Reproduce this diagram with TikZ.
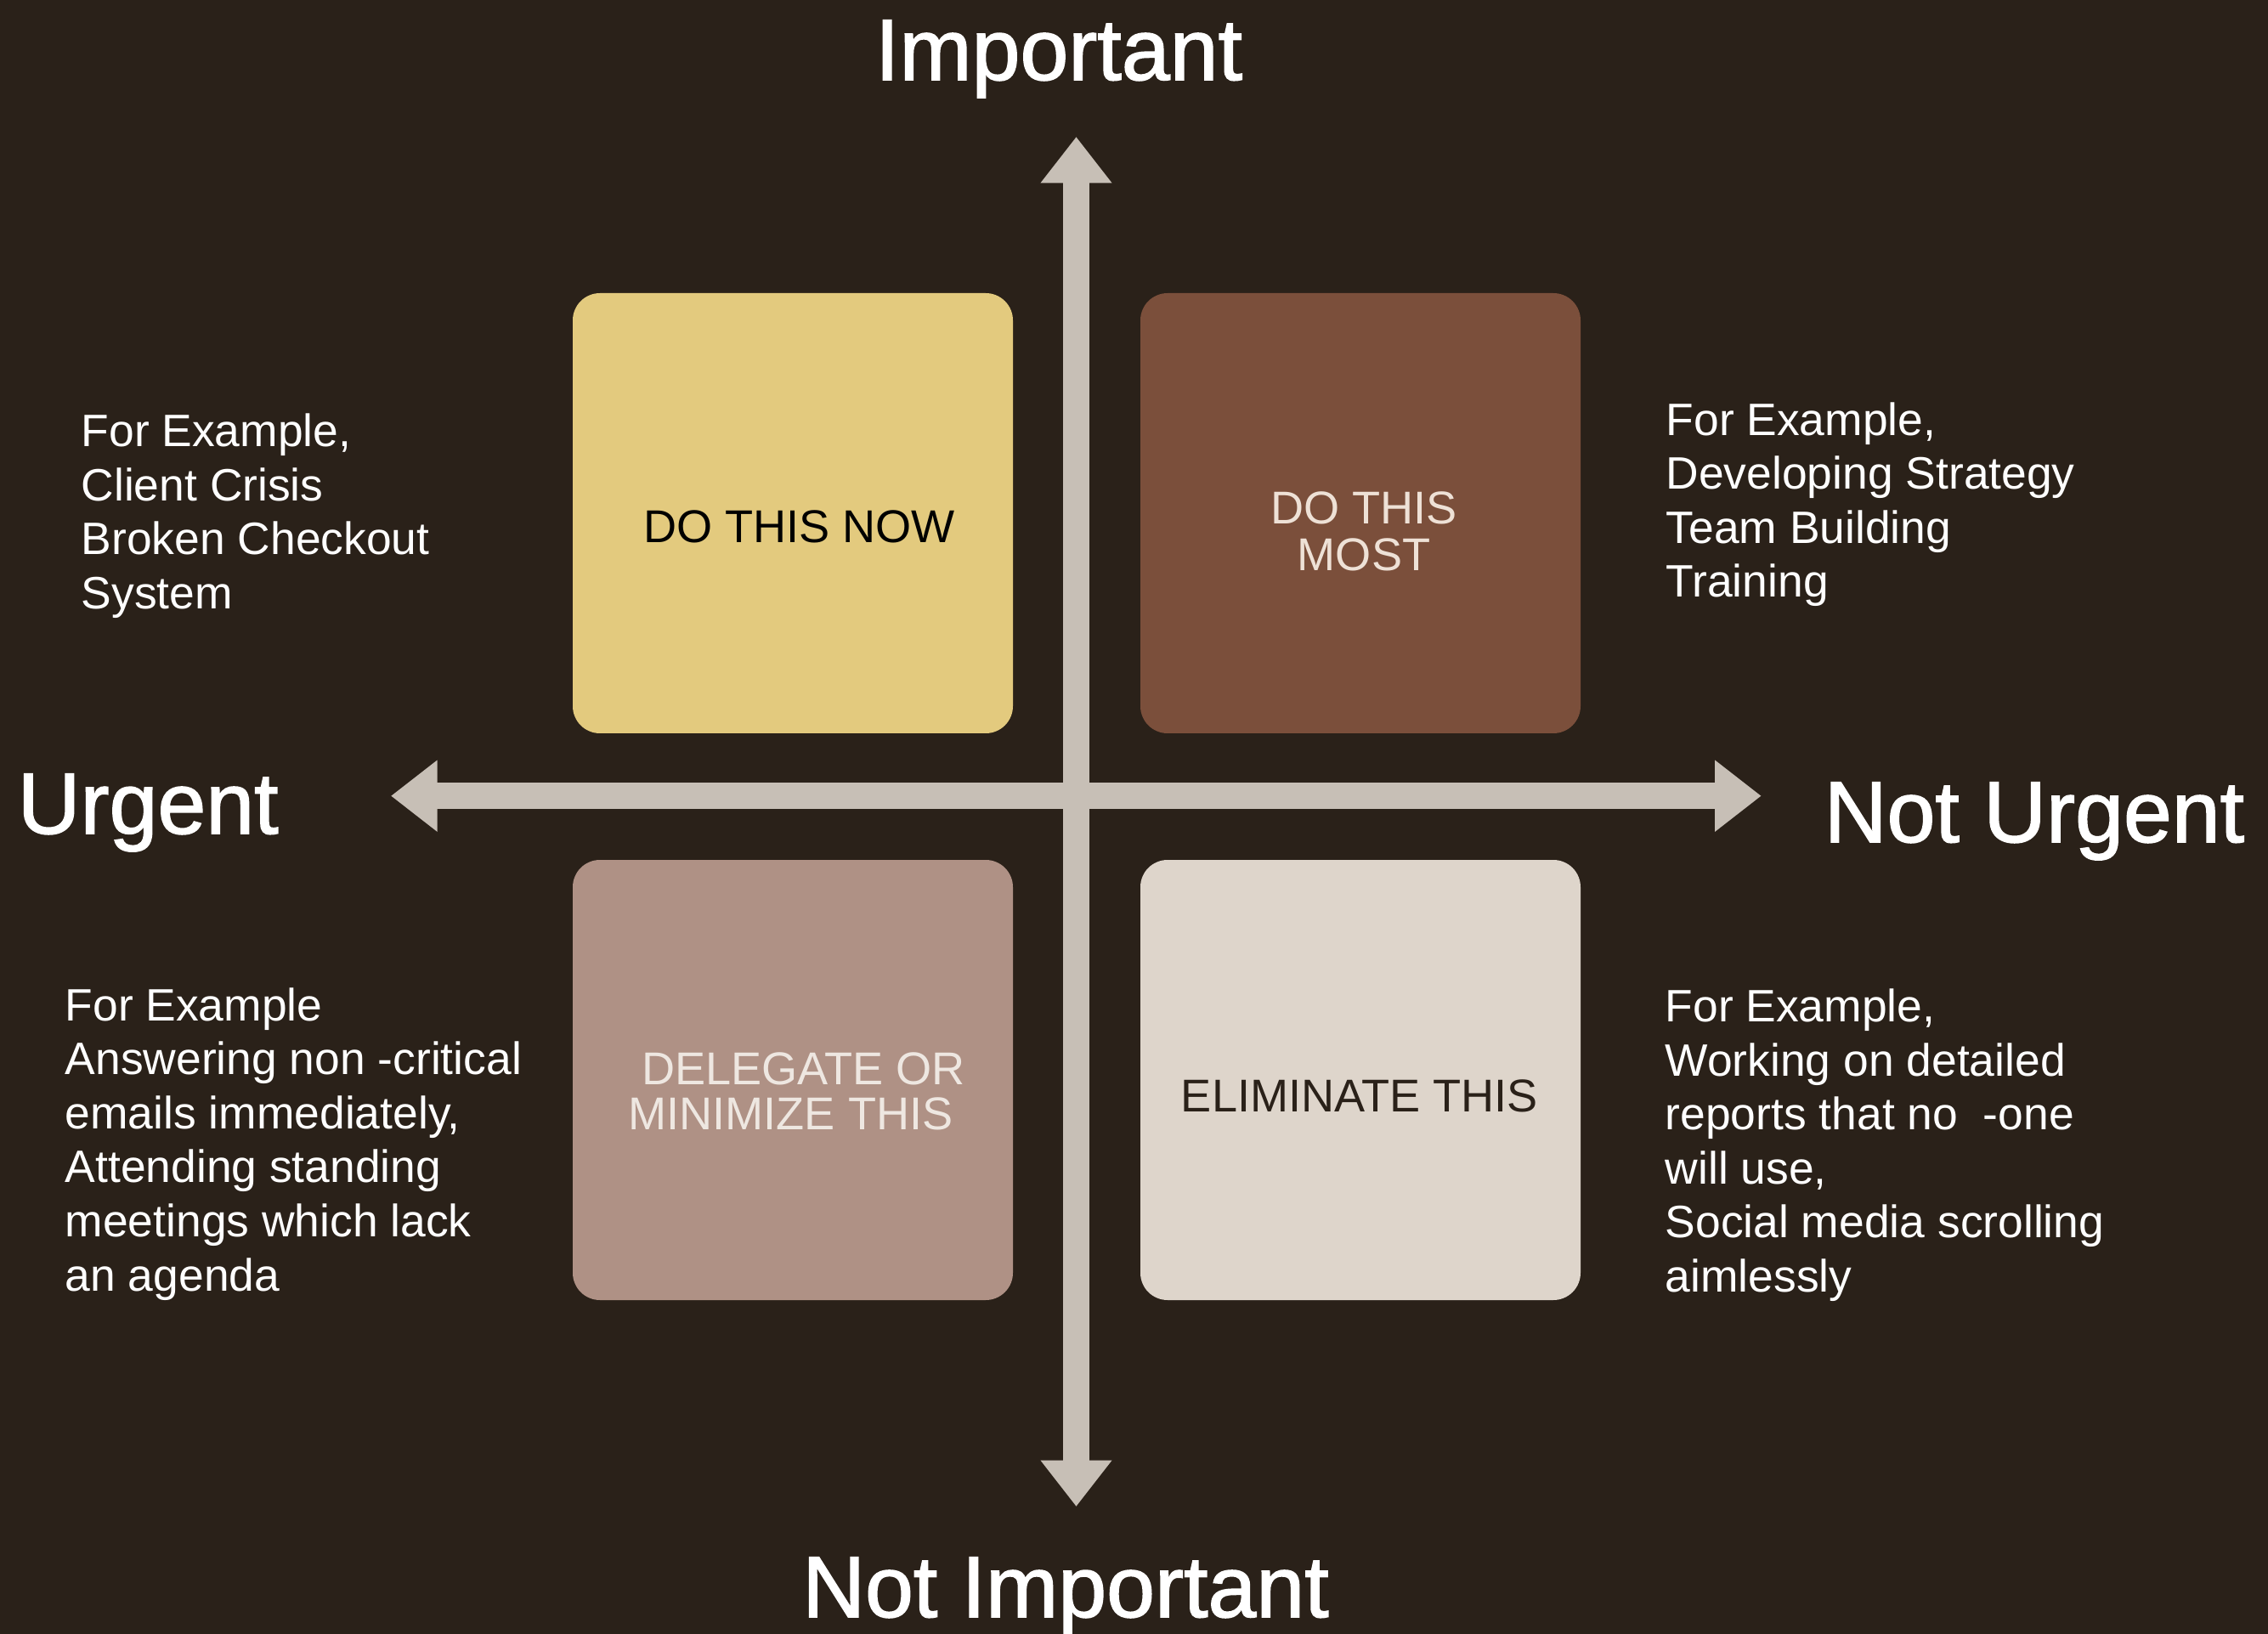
\documentclass[tikz,border=0pt]{standalone}
\usepackage{fontspec}
\setmainfont{Liberation Sans}
\newfontfamily\axisfont[FakeBold=1.5]{Liberation Sans}
\usetikzlibrary{arrows.meta, positioning}

\definecolor{bgdark}{HTML}{2A2119}
\definecolor{axisgrey}{HTML}{C7BFB6}
\definecolor{nowyellow}{HTML}{E3CA7E}
\definecolor{mostbrown}{HTML}{7B4F3B}
\definecolor{delegatemauve}{HTML}{AF9185}
\definecolor{eliminatecream}{HTML}{DED5CB}
\definecolor{mosttext}{HTML}{EEE1D6}
\definecolor{delegatetext}{HTML}{EEE7E1}

\tikzset{
  quad/.style={rounded corners=0.32cm, minimum width=5.18cm, minimum height=5.18cm, inner sep=0pt},
  quadtext/.style={align=center, inner sep=0pt, font=\fontsize{15.4}{15.6}\selectfont},
  axislabel/.style={text=white, inner sep=0pt, font=\axisfont\fontsize{29.1}{32}\selectfont},
  example/.style={text=white, align=left, anchor=base west, inner sep=0pt, font=\fontsize{15.2}{18.07}\selectfont},
  axisarrow/.style={draw=axisgrey, line width=0.315cm, {Triangle[width=0.805cm,length=0.545cm]}-{Triangle[width=0.805cm,length=0.545cm]}}
}

\begin{document}
\begin{tikzpicture}
    % Background
    \fill[bgdark] (0,0) rectangle (26.69,-19.23);
    \useasboundingbox (0,0) rectangle (26.69,-19.23);
    % Quadrants
    \node[quad, fill=nowyellow] (nowbox) at (9.33,-6.04) {};
    \node[quad, fill=mostbrown] (mostbox) at (16.01,-6.04) {};
    \node[quad, fill=delegatemauve] (delegatebox) at (9.33,-12.71) {};
    \node[quad, fill=eliminatecream] (eliminatebox) at (16.01,-12.71) {};
    \node[quadtext, text=black] (nowtext) at (9.405,-6.20) {DO THIS NOW};
    \node[quadtext, text=mosttext] (mosttext) at (16.05,-6.25) {DO THIS\\MOST};
    \node[quadtext, text=delegatetext, font=\fontsize{15.4}{15}\selectfont] (delegatetext) at (9.38,-12.845) {\hspace*{0.28em}DELEGATE OR\\MINIMIZE THIS\hspace*{0.28em}};
    \node[quadtext, text=bgdark] (eliminatetext) at (16.00,-12.90) {ELIMINATE THIS};
    % Axes
    \coordinate (importantend) at (12.665,-1.61);
    \coordinate (notimportantend) at (12.665,-17.73);
    \coordinate (urgentend) at (4.60,-9.367);
    \coordinate (noturgentend) at (20.727,-9.367);
    \draw[axisarrow] (urgentend) -- (noturgentend);
    \draw[axisarrow] (importantend) -- (notimportantend);
    \node[axislabel, anchor=base] (important) at (12.46,-0.94) {Important};
    \node[axislabel, anchor=base] (notimportant) at (12.54,-19.03) {Not Important};
    \node[axislabel, anchor=base west] (urgent) at (0.20,-9.81) {Urgent};
    \node[axislabel, anchor=base west] (noturgent) at (21.46,-9.91) {Not Urgent};
    % Examples (anchored at the last line)
    \node[example] (nowexample) at (0.95,-7.165) {For Example,\\Client Crisis\\Broken Checkout\\System};
    \node[example] (mostexample) at (19.60,-7.03) {For Example,\\Developing Strategy\\Team Building\\Training};
    \node[example] (delegateexample) at (0.76,-15.19) {For Example\\Answering non -critical\\emails immediately,\\Attending standing\\meetings which lack\\an agenda};
    \node[example] (eliminateexample) at (19.59,-15.205) {For Example,\\Working on detailed\\reports that no\ \ -one\\will use,\\Social media scrolling\\aimlessly};
\end{tikzpicture}
\end{document}
